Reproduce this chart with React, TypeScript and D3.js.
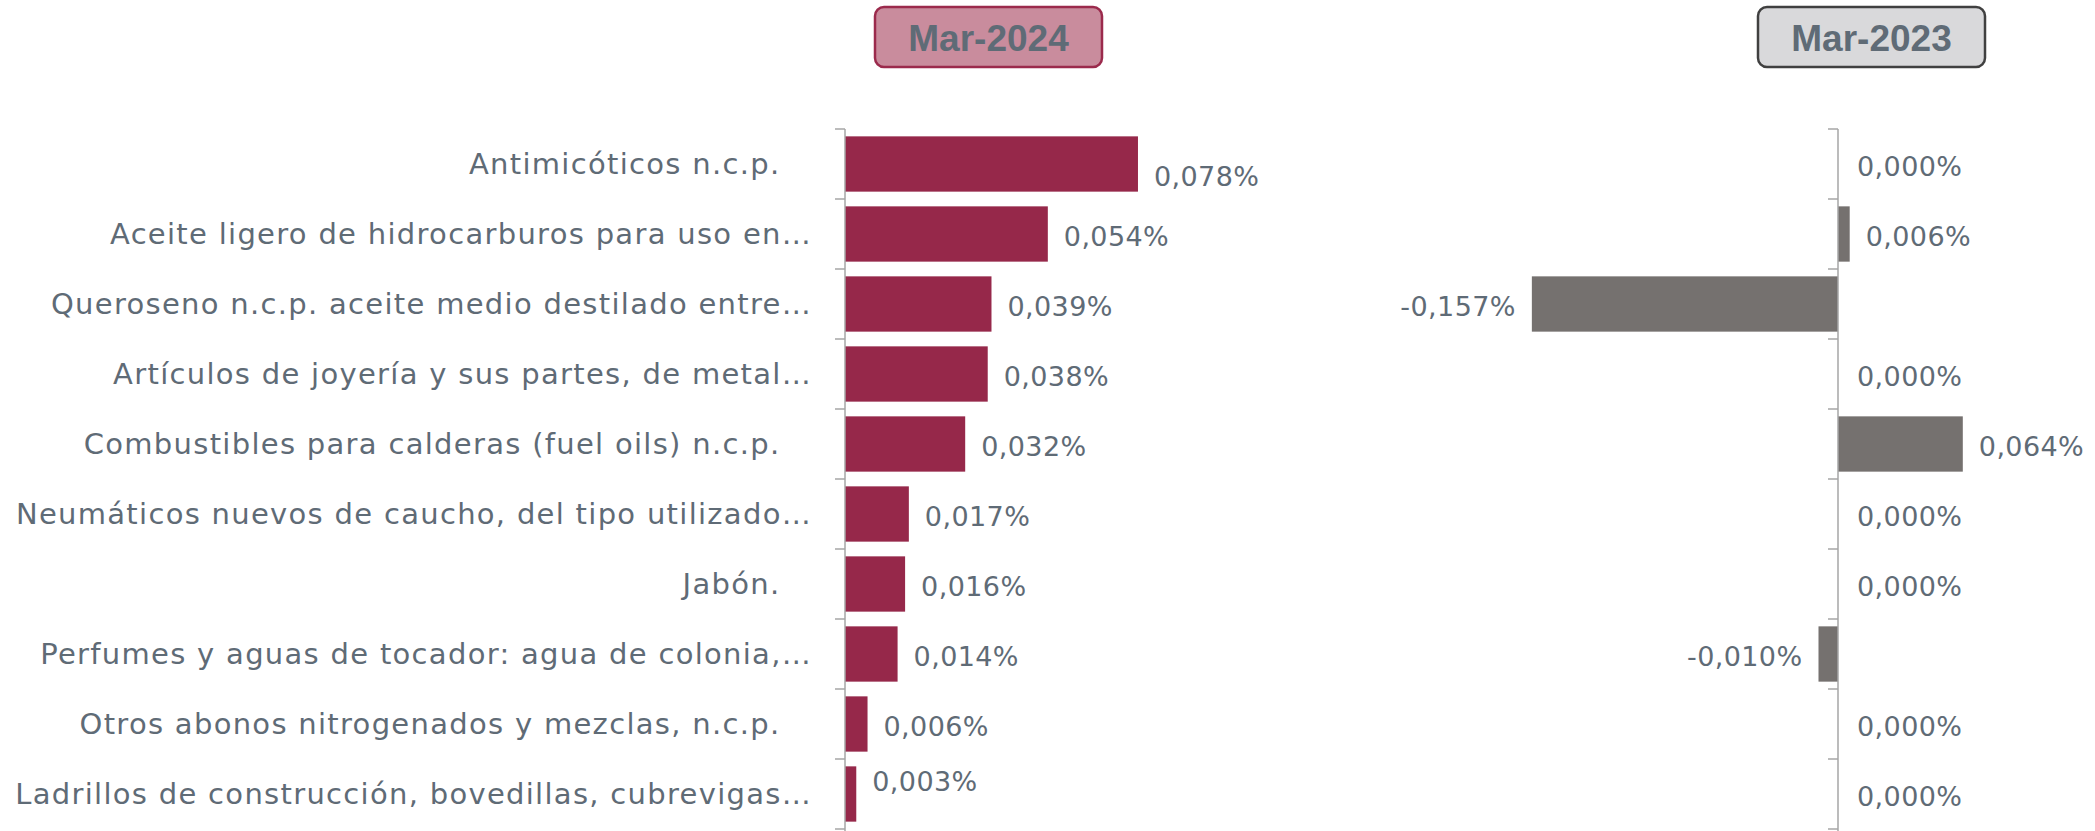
import * as d3 from 'd3';
import React from 'react';

// categories as they appear (untruncated labels carry trailing spaces in the source)
const categories = [
  'Antimicóticos n.c.p.\u00A0\u00A0\u00A0',
  'Aceite ligero de hidrocarburos para uso en…',
  'Queroseno n.c.p. aceite medio destilado entre…',
  'Artículos de joyería y sus partes, de metal…',
  'Combustibles para calderas (fuel oils) n.c.p.\u00A0\u00A0\u00A0',
  'Neumáticos nuevos de caucho, del tipo utilizado…',
  'Jabón.\u00A0\u00A0\u00A0',
  'Perfumes y aguas de tocador: agua de colonia,…',
  'Otros abonos nitrogenados y mezclas, n.c.p.\u00A0\u00A0\u00A0',
  'Ladrillos de construcción, bovedillas, cubrevigas…',
];

const mar2024 = [0.078, 0.054, 0.039, 0.038, 0.032, 0.017, 0.016, 0.014, 0.006, 0.003];
const mar2023 = [0.0, 0.006, -0.157, 0.0, 0.064, 0.0, 0.0, -0.01, 0.0, 0.0];

const periods = ['Mar-2024', 'Mar-2023'];

const width = 2095;
const height = 831;
const plotTop = 129;
const plotBottom = 829;
const textColor = '#5f6b76';
const axisColor = '#a6a6a6';
const labelFont = 'DejaVu Sans, sans-serif';
const labelGap = 16;
// small vertical nudges Excel applied to a couple of left-panel labels
const leftNudge: Record<number, number> = { 0: 10, 9: -15 };

const fmt = (v: number) => v.toFixed(3).replace('.', ',') + '%';

export default function App() {
  const y = d3
    .scaleBand<number>()
    .domain(categories.map((c, i) => i))
    .range([plotTop, plotBottom])
    .paddingInner(0.21)
    .paddingOuter(0.105);
  const step = y.step();

  const xLeft = d3.scaleLinear().domain([0, 0.1]).range([845, 845 + 375.6]);
  const xRight = d3.scaleLinear().domain([-0.2, 0.1]).range([1448, 2033]);

  const panels = [
    { x: xLeft, values: mar2024, fill: '#96284a', box: '#c98c9d', boxStroke: '#9b2a4c', nudge: leftNudge },
    { x: xRight, values: mar2023, fill: '#75716f', box: '#d9d9db', boxStroke: '#404040', nudge: {} as Record<number, number> },
  ];

  return (
    <svg width={width} height={height} style={{ position: 'absolute', left: 0, top: 0, background: '#fff' }}>
      {/* headers */}
      {panels.map((p, k) => {
        const cx = k === 0 ? 988.5 : 1871.5;
        return (
          <g key={'h' + k}>
            <rect x={cx - 113.5} y={7} width={227} height={60} rx={9} fill={p.box} stroke={p.boxStroke} strokeWidth={2.5} />
            <text
              x={cx}
              y={38}
              textAnchor="middle"
              dominantBaseline="central"
              fontFamily="Liberation Sans, Arial, sans-serif"
              fontWeight="bold"
              fontSize={37}
              fill={textColor}
            >
              {periods[k]}
            </text>
          </g>
        );
      })}

      {/* category labels */}
      {categories.map((c, i) => (
        <text
          key={'c' + i}
          x={812}
          y={(y(i) as number) + y.bandwidth() / 2}
          textAnchor="end"
          dominantBaseline="central"
          fontFamily={labelFont}
          fontSize={29}
          letterSpacing={1.3}
          fill={textColor}
          style={{ whiteSpace: 'pre' }}
        >
          {c}
        </text>
      ))}

      {panels.map((p, k) => {
        const x0 = p.x(0);
        return (
          <g key={'p' + k}>
            {p.values.map((v, i) => {
              const yy = y(i) as number;
              const end = p.x(v);
              const cy = yy + y.bandwidth() / 2 + (p.nudge[i] || 0);
              return (
                <g key={i}>
                  {v !== 0 && (
                    <rect
                      x={Math.min(x0, end)}
                      y={yy}
                      width={Math.abs(end - x0)}
                      height={y.bandwidth()}
                      fill={p.fill}
                    />
                  )}
                  <text
                    x={v < 0 ? end - labelGap : end + labelGap + (v === 0 ? 3 : 0)}
                    y={cy + 2}
                    textAnchor={v < 0 ? 'end' : 'start'}
                    dominantBaseline="central"
                    fontFamily={labelFont}
                    fontSize={27}
                    letterSpacing={0.4}
                    fill={textColor}
                  >
                    {fmt(v)}
                  </text>
                </g>
              );
            })}
            {/* axis line and tick marks at band boundaries */}
            <line x1={x0} x2={x0} y1={plotTop} y2={height} stroke={axisColor} strokeWidth={1.5} />
            {d3.range(categories.length + 1).map((j) => (
              <line
                key={'t' + j}
                x1={x0 - 10}
                x2={x0}
                y1={plotTop + j * step}
                y2={plotTop + j * step}
                stroke={axisColor}
                strokeWidth={1.5}
              />
            ))}
          </g>
        );
      })}
    </svg>
  );
}
